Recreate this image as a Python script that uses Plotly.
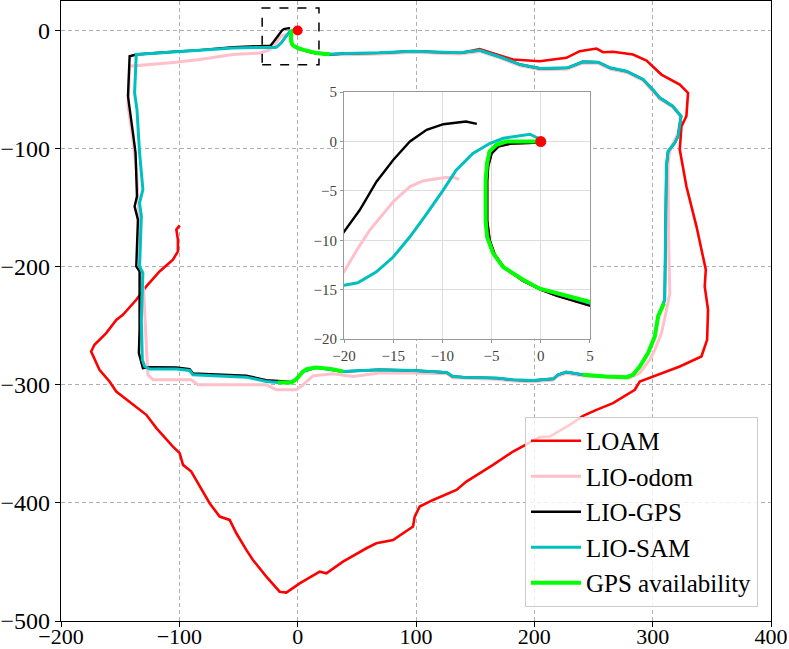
import plotly.graph_objects as go

# ---------------------------------------------------------------- data ----#
# start hook near the origin (GPS available here)
hook_x = [0, -0.8, -2.0, -3.5, -4.5, -5.2, -5.46, -5.6, -5.6, -5.6, -5.46, -4.85, -3.83, -1.8, -0.1, 1.6, 5, 10, 16, 22, 27]
hook_y = [0, 0, 0, 0, -0.34, -1.0, -2.2, -3.9, -6.0, -7.96, -9.65, -11.3, -12.7, -14.0, -14.9, -15.4, -16.4, -17.8, -19.1, -19.7, -20]

hook_red_x = [0, -1, -3, -4.3, -5.0, -5.35, -5.45, -5.45, -5.2, -4.7, -3.7, -1.8, 0, 1.6, 5, 10, 16, 22, 27]
hook_red_y = [-0.1, -0.15, -0.2, -0.5, -1.2, -2.5, -4, -8, -10, -11.4, -12.8, -14.1, -15, -15.6, -16.7, -18.1, -19.4, -20, -20.3]

# LOAM
loam_x = hook_red_x + [69, 97.5, 137, 153.8, 182, 204.6, 227.1, 238.4, 252.5, 258.1, 266.5, 283.4, 294.8, 307.4,
                       322.9, 329.9, 328.5, 324.3, 322.9, 328.5, 337, 344.9, 344, 346.8, 346, 341.2, 322.9,
                       300.3, 289.1, 284.9, 266.5, 252.5, 241.2, 229.9, 213, 204.6, 182, 165.1, 142.6, 134.2,
                       114.4, 103.1, 98.9, 97.5, 80.6, 66.5, 58.1, 38.3, 24.3, 18.6, 11.6, 1.7, -9.6, -15.2,
                       -26.5, -37.8, -43.4, -51.8, -57.5, -65.9, -74.4, -82.8, -89.9, -96.9, -99.7, -105.4,
                       -119.4, -127.9, -139.2, -153.3, -159, -167.5, -174.5, -171.7, -161.8, -153.3, -147.7,
                       -136.4, -127.9, -116.7, -105.4, -101.2, -101.2, -102.5, -99.7]
loam_y = hook_red_y + [-19.2, -17.8, -19.2, -15.8, -24.6, -26, -23.1, -17.5, -15.3, -18.4, -18, -20.3, -25.5, -37.3,
                       -45.8, -52.8, -72.6, -81.1, -100.8, -131.9, -165.8, -202.5, -216.7, -236.4, -261.9, -276,
                       -284.5, -293, -297.2, -304.2, -315.5, -321.2, -326.3, -333.9, -343.8, -344.3, -356.5,
                       -367.8, -381.9, -389, -397.5, -403.1, -411.6, -420, -431.4, -434.2, -438.4, -449.7,
                       -459.6, -458.2, -462.4, -468.1, -476, -475.2, -462.4, -448.3, -439.8, -425.7, -414.4,
                       -411.6, -400.3, -386.2, -373.5, -367.8, -357.9, -352.3, -336.7, -325.4, -316.9, -305.7,
                       -297.2, -287.3, -271.8, -266.1, -256.2, -245, -240.7, -228, -216.7, -204, -194.1, -187,
                       -177.1, -168.6, -165]

# LIO-odom
odom_x = hook_x + [40, 69, 97, 137, 154, 170, 188, 205, 228, 241, 254, 264, 278, 292, 300, 306, 317, 324,
                   321, 317, 314, 313, 313.5, 314.5, 311, 307.4, 302, 297.5, 289.1, 280, 241, 227, 220, 216,
                   199, 182, 168, 140, 131, 126, 97.5, 69, 46.7, 29.8, 12.9, 4.5, -1.1, -18, -26.5, -84.3,
                   -89.9, -122.3, -126.5, -127, -127.9, -130.2, -133.6, -134, -136, -139.2, -143.4, -142,
                   -102.5, -82.8, -54.7, -32.1, -24, -20, -18.7, -17.4, -15, -13.3, -12, -9.9, -8.9, -8.3]
odom_y = hook_y + [-20.5, -19.9, -18.5, -19.9, -17.7, -23, -29.8, -33.2, -32.6, -27.5, -27.8, -32.6, -35.5,
                   -42.5, -51, -58, -65, -73, -88, -96, -104, -115, -180, -222.3, -240, -256.2, -270, -278.8,
                   -290, -294.5, -292.5, -290.2, -292.5, -295.9, -297.4, -296.8, -295.3, -294.5, -294,
                   -290.6, -289.9, -290, -293, -290.7, -292.4, -300, -304.2, -304.2, -300, -300, -295.8,
                   -295.8, -291.5, -284.5, -261.9, -219.5, -199.7, -160, -120, -92.4, -64, -30.2, -26.8,
                   -24.6, -20.3, -19, -16.5, -13.2, -11, -9, -6.1, -4.57, -4, -3.66, -3.63, -3.83]

# LIO-GPS
gps_x = hook_red_x + [40, 69, 97, 137, 154, 170, 188, 205, 228, 241, 254, 264, 278, 292, 300, 306, 317, 324,
                      321.5, 318.7, 313, 311.6, 310.8, 310.2, 304.6, 301.8, 296.1, 289.1, 283.4, 278, 260, 241,
                      227, 220, 216, 199, 182, 168, 140, 131, 126, 97.5, 69, 38.3, 15.8, 4.5, -1.1, -5.3,
                      -16.6, -26.5, -43.4, -68.7, -88.5, -91.3, -102.5, -125, -130.8, -134.2, -133.6, -133.6,
                      -136.4, -135, -137.8, -135.8, -137, -139.2, -143.4, -142, -136.4, -111, -82.8, -54.7,
                      -30, -23, -20, -18.4, -16.7, -15, -13.3, -11.6, -9.9, -7.6, -6.5]
gps_y = hook_red_y + [-19.5, -18.9, -17.5, -18.9, -16.7, -22, -28.8, -32.2, -31.6, -26.5, -26.8, -31.6, -34.5,
                      -41.5, -50, -57, -64.1, -72.6, -89.5, -95.2, -102.3, -115, -177.1, -228, -242, -259,
                      -273.1, -284.5, -291.5, -293.5, -293, -291.5, -289.2, -291.5, -294.9, -296.4, -295.8,
                      -294.3, -293.5, -293, -289.6, -287.9, -287.3, -288.7, -285.3, -288.7, -295.2, -297.5,
                      -296.8, -296, -292.3, -291.2, -290.3, -286.7, -285.4, -285, -285.9, -273.1, -253.4,
                      -204, -199.7, -160.2, -148.9, -140.4, -103.6, -86.7, -55.7, -21.8, -20.3, -18.4, -16.6,
                      -14.1, -13.5, -12.9, -9.14, -6.94, -4.07, -1.87, 0, 1.18, 1.75, 2.02, 1.79]

# LIO-SAM
sam_x = hook_x + [40, 69, 97, 137, 154, 170, 188, 205, 228, 241, 254, 264, 278, 292, 300, 306, 317, 324,
                  321.5, 318.7, 313, 311.6, 310.8, 310.2, 304.6, 301.8, 296.1, 289.1, 283.4, 278, 260, 241,
                  227, 220, 216, 199, 182, 168, 140, 131, 126, 97.5, 69, 38.3, 15.8, 4.5, -1.1, -5.3, -16.6,
                  -26.5, -43.4, -68.7, -88.5, -91.3, -102.5, -125, -129.3, -131.3, -132.1, -130.8, -133.6,
                  -132.1, -133.6, -130.8, -133.6, -135.8, -137.8, -136.4, -111, -82.8, -54.7, -26.5, -20,
                  -18.6, -16.7, -15, -13.3, -11.8, -9.9, -8.6, -6.9, -5.2, -3.8, -1.1, -0.27, 0]
sam_y = hook_y + [-19.5, -18.9, -17.5, -18.9, -16.7, -22, -28.8, -32.2, -31.6, -26.5, -26.8, -31.6, -34.5,
                  -41.5, -50, -57, -64.1, -72.6, -89.5, -95.2, -102.3, -115, -177.1, -228, -242, -259, -273.1,
                  -284.5, -291.5, -293.5, -293, -291.5, -289.2, -291.5, -294.9, -296.4, -295.8, -294.3,
                  -293.5, -293, -289.6, -287.9, -287.3, -288.7, -285.3, -288.7, -295.2, -298, -298, -297.2,
                  -293.5, -292.4, -291.5, -287.9, -286.6, -286.6, -284.5, -278.8, -245, -205.3, -199.7,
                  -157.4, -146, -134.7, -103.6, -66.9, -52.8, -20.3, -18.4, -16.9, -14.7, -14.3, -14.55,
                  -14.3, -13.2, -11.7, -9.65, -7.6, -4.9, -2.9, -1.2, -0.2, 0.33, 0.74, 0.33, 0.1]

# GPS availability (three separate stretches)
avail_x = hook_x + [None, 309.6, 304.6, 301.8, 296.1, 289.1, 283.4, 278, 260, 241,
                    None, 38.3, 28, 15.8, 8, 4.5, -1.1, -5.3, -16.6]
avail_y = hook_y + [None, -230.9, -242, -259, -273.1, -284.5, -291.5, -293.5, -293, -291.5,
                    None, -288.7, -286.5, -285.3, -286.5, -288.7, -295.2, -298, -298]

start_x = [0]
start_y = [0]

names = ['LOAM', 'LIO-odom', 'LIO-GPS', 'LIO-SAM', 'GPS availability']
colors = ['#ff0000', '#ffc0cb', '#000000', '#00bfbf', '#00ff00']
widths = [2.6, 3, 2.4, 3, 4]
xs = [loam_x, odom_x, gps_x, sam_x, avail_x]
ys = [loam_y, odom_y, gps_y, sam_y, avail_y]

# zoom window shown in the inset
box_x = [-30, 18]
box_y = [-29, 19]

# ---------------------------------------------------------------- plot ----#
FONT = 'Liberation Serif'

fig = go.Figure()

for ax in ['', '2']:
    for name, color, w, x, y in zip(names, colors, widths, xs, ys):
        fig.add_trace(go.Scatter(
            x=x, y=y,
            mode='lines',
            line=dict(color=color, width=w),
            name=name,
            showlegend=(ax == ''),
            xaxis='x' + ax, yaxis='y' + ax,
            hoverinfo='skip'
        ))
    fig.add_trace(go.Scatter(
        x=start_x, y=start_y,
        mode='markers',
        marker=dict(color='#ff0000', size=10 if ax == '' else 11),
        showlegend=False,
        xaxis='x' + ax, yaxis='y' + ax,
        hoverinfo='skip'
    ))

fig.update_layout(
    width=789,
    height=649,
    margin=dict(l=61, r=18, t=1, b=28),
    paper_bgcolor='white',
    plot_bgcolor='white',
    font=dict(family=FONT, color='black'),
    xaxis=dict(
        range=[-200, 400], dtick=100,
        showgrid=True, gridcolor='#b0b0b0', griddash='4px,3px', gridwidth=1,
        zeroline=False,
        showline=True, linecolor='black', linewidth=1.2, mirror=True,
        ticks='outside', ticklen=5, tickcolor='black',
        tickfont=dict(size=22, family=FONT),
        ticklabelstandoff=-10,
        automargin=False
    ),
    yaxis=dict(
        range=[-500, 25], dtick=100,
        showgrid=True, gridcolor='#b0b0b0', griddash='4px,3px', gridwidth=1,
        zeroline=False,
        showline=True, linecolor='black', linewidth=1.2, mirror=True,
        ticks='outside', ticklen=5, tickcolor='black',
        tickfont=dict(size=24, family=FONT),
        automargin=False
    ),
    xaxis2=dict(
        domain=[0.3986, 0.745], anchor='y2',
        range=[-20, 5], dtick=5,
        showgrid=True, gridcolor='#dddddd', gridwidth=0.8,
        zeroline=False,
        showline=True, linecolor='#999999', linewidth=1, mirror=True,
        ticks='outside', ticklen=3, tickcolor='#999999',
        tickfont=dict(size=15, family=FONT, color='#444444'),
        automargin=False
    ),
    yaxis2=dict(
        domain=[0.4548, 0.853], anchor='x2',
        range=[-20, 5], dtick=5,
        showgrid=True, gridcolor='#dddddd', gridwidth=0.8,
        zeroline=False,
        showline=True, linecolor='#999999', linewidth=1, mirror=True,
        ticks='outside', ticklen=3, tickcolor='#999999',
        tickfont=dict(size=15, family=FONT, color='#444444'),
        automargin=False
    ),
    legend=dict(
        x=0.9817, y=0.0226, xanchor='right', yanchor='bottom',
        bgcolor='rgba(255,255,255,0.8)',
        bordercolor='#cccccc', borderwidth=1,
        font=dict(size=25, family=FONT, color='black'),
        itemwidth=50
    ),
    shapes=[
        # white background of the inset, drawn under its traces
        dict(type='rect', xref='x2 domain', yref='y2 domain',
             x0=0, x1=1, y0=0, y1=1,
             fillcolor='white', line=dict(width=0), layer='below'),
        # dashed window around the start point
        dict(type='rect', xref='x', yref='y',
             x0=box_x[0], x1=box_x[1], y0=box_y[0], y1=box_y[1],
             line=dict(color='black', width=1.5, dash='dash'), layer='above')
    ]
)

# the page's default body margin would push the figure off the window
fig.write_html("out.html", config={'displayModeBar': False},
               post_script="document.body.style.margin='0px';")
